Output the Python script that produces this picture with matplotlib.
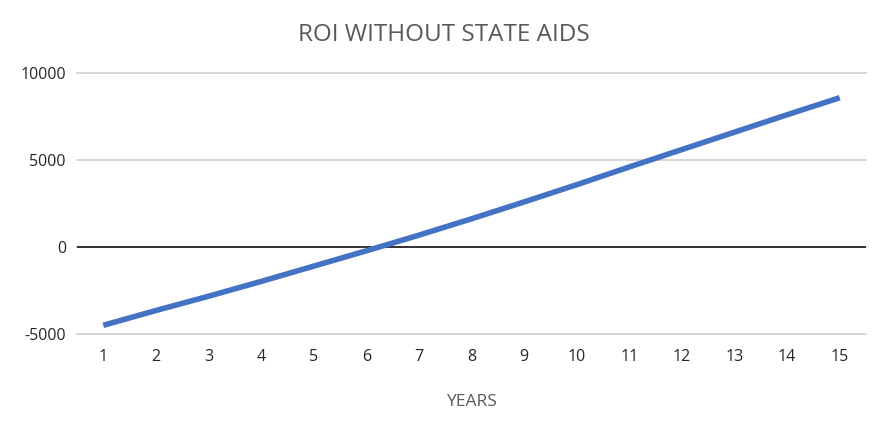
import matplotlib
matplotlib.use("Agg")
import matplotlib.pyplot as plt

years = list(range(1, 16))
roi = [-4500, -3650, -2830, -1980, -1100, -220, 680, 1620, 2590, 3580, 4600, 5600, 6600, 7600, 8580]
yticks = [-5000, 0, 5000, 10000]

plt.rcParams['font.family'] = ['Open Sans', 'DejaVu Sans']

fig = plt.figure(figsize=(8.88, 4.34), dpi=100)
ax = fig.add_axes([77/888, 1 - 334/434, (866-77)/888, (334-73)/434])

for v in yticks:
    ax.axhline(v, color='#d0d0d0', lw=1.2, zorder=1, clip_on=False)
ax.axhline(0, color='#262626', lw=1.3, zorder=2)

ax.plot(years, roi, color='#4472C4', lw=4, solid_capstyle='butt', zorder=3)

ax.set_xlim(0.5, 15.5)
ax.set_ylim(-5000, 10000)
ax.set_xticks(years)
ax.set_xticklabels([str(y) for y in years])
ax.set_yticks(yticks)
ax.set_yticklabels([str(v) for v in yticks])
ax.tick_params(length=0, labelsize=11.5, colors='#262626', pad=8)
ax.tick_params(axis='x', pad=11)
for s in ax.spines.values():
    s.set_visible(False)

fig.text(444/888, 1 - 35/434, 'ROI WITHOUT STATE AIDS', ha='center', va='center',
         fontsize=17.5, color='#595959')
fig.text(471/888, 1 - 402/434, 'YEARS', ha='center', va='center',
         fontsize=12.5, color='#595959')

fig.savefig('out.png', dpi=100)
